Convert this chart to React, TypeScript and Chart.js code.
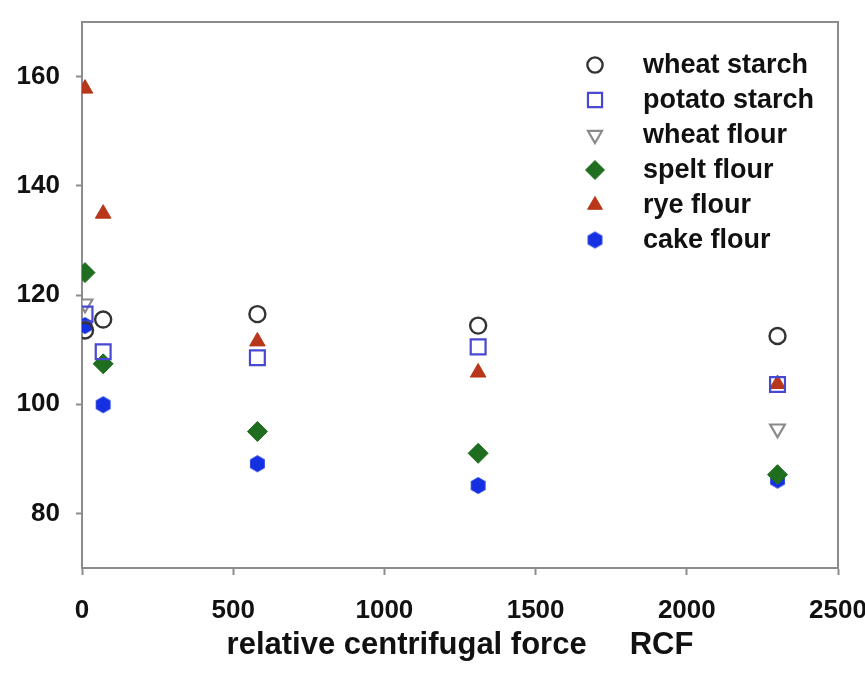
import React, { useEffect, useRef } from "react";
import { Chart, registerables } from "chart.js";
import { drawPoint } from "chart.js/helpers";

Chart.register(...registerables);

const rcf = [10, 70, 580, 1310, 2300];
const wheatStarch = [113.5, 115.5, 116.5, 114.4, 112.5];
const potatoStarch = [116.5, 109.6, 108.5, 110.5, 103.6];
const wheatFlour: (number | null)[] = [118.4, null, null, null, 95.5];
const speltFlour = [124.1, 107.4, 95.0, 91.0, 87.1];
const ryeFlour = [157.8, 134.9, 111.5, 105.8, 103.7];
const cakeFlour = [114.4, 99.9, 89.1, 85.1, 86.1];

const xTicks = [0, 500, 1000, 1500, 2000, 2500];
const yTicks = [80, 100, 120, 140, 160];

const seriesNames = ["wheat starch", "potato starch", "wheat flour", "spelt flour", "rye flour", "cake flour"];

function makeHexagon(color: string, r: number) {
  const c = document.createElement("canvas");
  const s = Math.ceil(r * 2 + 2);
  c.width = s;
  c.height = s;
  const ctx = c.getContext("2d")!;
  ctx.fillStyle = color;
  ctx.beginPath();
  for (let i = 0; i < 6; i++) {
    const a = (Math.PI / 3) * i + Math.PI / 6;
    const px = s / 2 + r * Math.cos(a);
    const py = s / 2 + r * Math.sin(a);
    if (i === 0) ctx.moveTo(px, py);
    else ctx.lineTo(px, py);
  }
  ctx.closePath();
  ctx.fill();
  return c;
}

export default function App() {
  const ref = useRef<HTMLCanvasElement | null>(null);
  useEffect(() => {
    if (!ref.current) return;
    const hex = makeHexagon("#1530e0", 8.5);
    const toPts = (arr: (number | null)[]) =>
      arr.map((v, i) => ({ x: rcf[i], y: v })).filter((p) => p.y !== null);
    const styles = [
      { pointStyle: "circle", radius: 8, rotation: 0, borderColor: "#333333", backgroundColor: "rgba(0,0,0,0)", borderWidth: 2.4 },
      { pointStyle: "rect", radius: 10.5, rotation: 0, borderColor: "#4848d0", backgroundColor: "rgba(0,0,0,0)", borderWidth: 2.2 },
      { pointStyle: "triangle", radius: 8.5, rotation: 180, borderColor: "#8a8a8a", backgroundColor: "rgba(255,255,255,0.3)", borderWidth: 2.2 },
      { pointStyle: "rectRot", radius: 10, rotation: 0, borderColor: "#1f6e1f", backgroundColor: "#1f6e1f", borderWidth: 1 },
      { pointStyle: "triangle", radius: 9, rotation: 0, borderColor: "#b8361a", backgroundColor: "#b8361a", borderWidth: 1 },
      { pointStyle: hex as any, radius: 8.5, rotation: 0, borderColor: "#1530e0", backgroundColor: "#1530e0", borderWidth: 0 },
    ];
    const values = [wheatStarch, potatoStarch, wheatFlour, speltFlour, ryeFlour, cakeFlour];
    const datasets = values.map((vals, i) => ({
      label: seriesNames[i],
      data: toPts(vals as (number | null)[]),
      showLine: false,
      pointStyle: styles[i].pointStyle as any,
      pointRadius: styles[i].radius,
      pointRotation: styles[i].rotation,
      pointBorderColor: styles[i].borderColor,
      pointBackgroundColor: styles[i].backgroundColor,
      pointBorderWidth: styles[i].borderWidth,
      borderColor: styles[i].borderColor,
      backgroundColor: styles[i].backgroundColor,
    }));

    const framePlugin = {
      id: "frameLegend",
      afterDraw(chart: any) {
        const { ctx, chartArea } = chart;
        ctx.save();
        ctx.strokeStyle = "#8c8c8c";
        ctx.lineWidth = 2;
        ctx.beginPath();
        ctx.moveTo(chartArea.left, chartArea.top);
        ctx.lineTo(chartArea.right, chartArea.top);
        ctx.lineTo(chartArea.right, chartArea.bottom);
        ctx.stroke();
        // legend
        const mx = chartArea.right - 243;
        const tx = chartArea.right - 195;
        const y0 = chartArea.top + 43;
        const dy = 35;
        ctx.font = "bold 27px 'Liberation Sans', Arial, sans-serif";
        ctx.textBaseline = "middle";
        ctx.textAlign = "left";
        chart.data.datasets.forEach((ds: any, i: number) => {
          const y = y0 + i * dy;
          ctx.save();
          ctx.strokeStyle = ds.pointBorderColor;
          ctx.fillStyle = ds.pointBackgroundColor;
          ctx.lineWidth = ds.pointBorderWidth;
          drawPoint(ctx, { pointStyle: ds.pointStyle, rotation: ds.pointRotation, radius: ds.pointRadius * 0.95, borderWidth: ds.pointBorderWidth } as any, mx, y);
          ctx.restore();
          ctx.fillStyle = "#111111";
          ctx.fillText(ds.label, tx, y + 1);
        });
        ctx.restore();
      },
    };

    const tickFont = { family: "'Liberation Sans', Arial, sans-serif", size: 26, weight: "bold" as const };
    const chart = new Chart(ref.current, {
      type: "scatter",
      data: { datasets },
      options: {
        animation: false,
        responsive: false,
        layout: { padding: { top: 22, right: 27, left: 0, bottom: 0 } },
        plugins: { legend: { display: false }, tooltip: { enabled: false } },
        scales: {
          x: {
            type: "linear",
            min: 0,
            max: 2500,
            afterBuildTicks: (s: any) => { s.ticks = xTicks.map((v) => ({ value: v })); },
            afterFit: (s: any) => { s.height = 108; s.paddingLeft = 0; s.paddingRight = 0; },
            grid: { drawOnChartArea: false, drawTicks: true, tickLength: 7, color: "#8c8c8c", tickWidth: 2 },
            border: { display: true, color: "#8c8c8c", width: 2 },
            ticks: { color: "#111111", font: tickFont, padding: 20, maxRotation: 0, autoSkip: false, callback: (v: any) => String(v) },
            title: {
              display: true,
              text: "relative centrifugal force     RCF",
              color: "#111111",
              font: { family: "'Liberation Sans', Arial, sans-serif", size: 31, weight: "bold" },
              padding: { top: 0, bottom: 12 },
            },
          },
          y: {
            type: "linear",
            min: 70,
            max: 170,
            afterBuildTicks: (s: any) => { s.ticks = yTicks.map((v) => ({ value: v })); },
            afterFit: (s: any) => { s.width = 82; s.paddingTop = 0; s.paddingBottom = 0; },
            grid: { drawOnChartArea: false, drawTicks: true, tickLength: 6, color: "#8c8c8c", tickWidth: 2 },
            border: { display: true, color: "#8c8c8c", width: 2 },
            ticks: { color: "#111111", font: tickFont, padding: 16, autoSkip: false, callback: (v: any) => String(v) },
          },
        },
      },
      plugins: [framePlugin],
    });
    return () => chart.destroy();
  }, []);
  return (
    <div style={{ position: "absolute", left: 0, top: 0, width: 865, height: 676, background: "#fff" }}>
      <canvas ref={ref} width={865} height={676} style={{ width: 865, height: 676, display: "block" }} />
    </div>
  );
}
